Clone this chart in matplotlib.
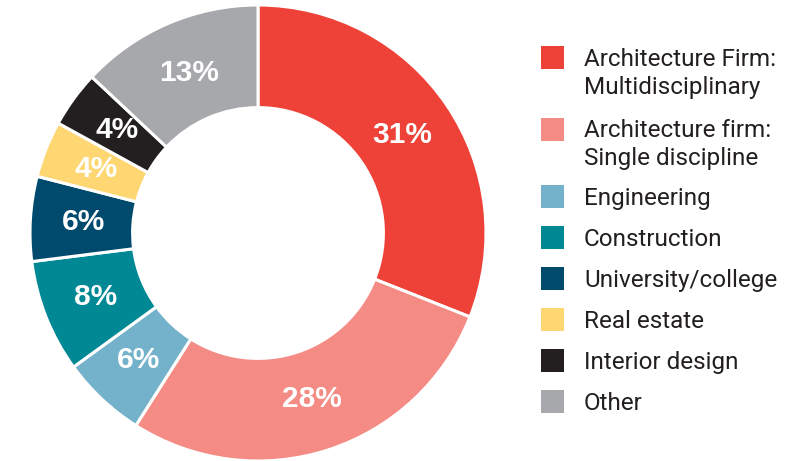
import matplotlib
matplotlib.use("Agg")
import matplotlib.pyplot as plt
from matplotlib.patches import Rectangle
import numpy as np

categories = [
    "Architecture Firm:\nMultidisciplinary",
    "Architecture firm:\nSingle discipline",
    "Engineering",
    "Construction",
    "University/college",
    "Real estate",
    "Interior design",
    "Other",
]
values = [31, 28, 6, 8, 6, 4, 4, 13]
labels = ["31%", "28%", "6%", "8%", "6%", "4%", "4%", "13%"]
colors = ["#EE4137", "#F48B84", "#74B1CA", "#008894", "#004A6E",
          "#FED672", "#231F20", "#A7A8AB"]

W, H = 811, 461
fig = plt.figure(figsize=(W / 100, H / 100), dpi=100)

cx, cy, R = 258, 228, 228
ax = fig.add_axes([(cx - R) / W, (cy - R) / H, 2 * R / W, 2 * R / H])
wedges, _ = ax.pie(values, colors=colors, startangle=90, counterclock=False,
                   radius=1.0,
                   wedgeprops=dict(width=0.45, edgecolor="white", linewidth=2.2))
ax.set_xlim(-1, 1)
ax.set_ylim(-1, 1)
ax.set_aspect("equal")
ax.axis("off")

r_lab = 0.765
for w, lab in zip(wedges, labels):
    ang = np.deg2rad((w.theta1 + w.theta2) / 2)
    ax.text(r_lab * np.cos(ang), r_lab * np.sin(ang), lab,
            ha="center", va="center", color="white",
            fontsize=21.5, fontweight="bold", family="Liberation Sans")

# legend
sq_x, sq_w = 541, 23
txt_x = 584
sq_centers = [58, 129, 196.5, 237.5, 278.5, 319.5, 360.5, 401.5]
for cat, col, yc in zip(categories, colors, sq_centers):
    fig.add_artist(Rectangle((sq_x / W, (H - yc - sq_w / 2) / H),
                             sq_w / W, sq_w / H, transform=fig.transFigure,
                             facecolor=col, edgecolor="none"))
    fig.text(txt_x / W, (H - yc + 10) / H, cat, ha="left", va="top",
             fontsize=17.5, family="Roboto", color="#231F20",
             linespacing=1.3)

fig.savefig("out.png", dpi=100)
